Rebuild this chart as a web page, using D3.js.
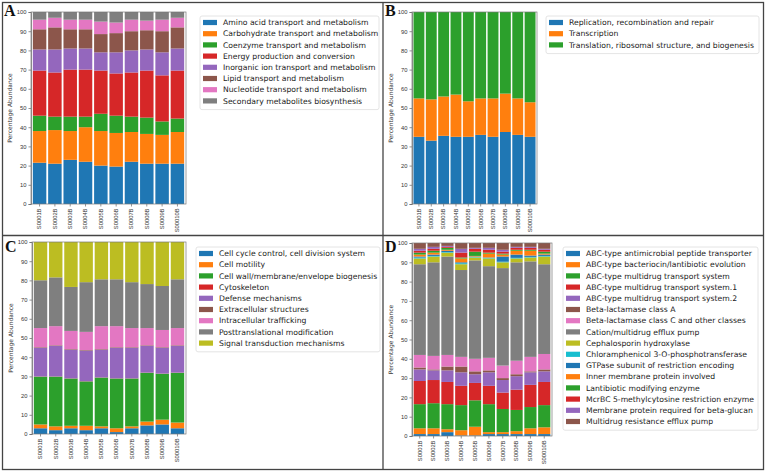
<!DOCTYPE html>
<html>
<head>
<meta charset="utf-8">
<script src="https://cdn.jsdelivr.net/npm/d3@7"></script>
<style>
  body { margin: 0; background: #fff; }
  svg { display: block; font-family: 'DejaVu Sans', sans-serif; }
</style>
</head>
<body>
<script>
const samples = ['S0001B', 'S0002B', 'S0003B', 'S0004B', 'S0005B', 'S0006B', 'S0007B', 'S0008B', 'S0009B', 'S00010B']
const yTicks = [0, 10, 20, 30, 40, 50, 60, 70, 80, 90, 100]

// panel A - metabolism
const catsA = [
  'Amino acid transport and metabolism',
  'Carbohydrate transport and metabolism',
  'Coenzyme transport and metabolism',
  'Energy production and conversion',
  'Inorganic ion transport and metabolism',
  'Lipid transport and metabolism',
  'Nucleotide transport and metabolism',
  'Secondary metabolites biosynthesis'
]
const valuesA = [
  [21.5, 21, 23, 22, 20, 19.5, 22, 21, 21, 21],
  [16.5, 17.5, 15, 18, 18, 17.5, 15.5, 15.5, 15, 16.5],
  [8, 7, 7.5, 5.5, 9, 9, 8, 8.5, 7, 7],
  [23.5, 23, 24.5, 24.5, 22.5, 22, 23, 24.5, 24, 25],
  [11, 12, 11, 11, 9.5, 11, 11.5, 11, 12, 11.5],
  [10.5, 11.5, 10, 10, 9.5, 10, 10, 10, 11, 11],
  [5, 5, 5, 5, 6.5, 5.5, 6, 5, 6, 5],
  [4, 3, 4, 4, 5, 5.5, 4, 4.5, 4, 3]
]

// panel B - information processing
const catsB = [
  'Replication, recombination and repair',
  'Transcription',
  'Translation, ribosomal structure, and biogenesis'
]
const valuesB = [
  [35, 33, 35.5, 35, 35, 36, 35, 37.5, 36, 35],
  [20, 21.5, 20.5, 22, 18.5, 19, 20, 20, 19, 18],
  [45, 45.5, 44, 43, 46.5, 45, 45, 42.5, 45, 47]
]

// panel C - cellular processes
const catsC = [
  'Cell cycle control, cell division system',
  'Cell motility',
  'Cell wall/membrane/envelope biogenesis',
  'Cytoskeleton',
  'Defense mechanisms',
  'Extracellular structures',
  'Intracellular trafficking',
  'Posttranslational modification',
  'Signal transduction mechanisms'
]
const valuesC = [
  [3, 2, 3, 2, 3, 1, 3, 4.5, 5, 3],
  [2, 2, 1.3, 2.3, 1, 2, 1, 2, 2.5, 3],
  [25, 26, 24.7, 23.2, 25.5, 26, 25, 25.5, 24, 26],
  [0.1, 0.1, 0.1, 0.1, 0.1, 0.1, 0.1, 0.1, 0.1, 0.1],
  [15, 16, 15, 16, 14.5, 16, 16, 14, 13.5, 14],
  [0.3, 0.3, 0.3, 0.3, 0.3, 0.3, 0.3, 0.3, 0.3, 0.3],
  [10, 10, 9.5, 9.5, 12, 11, 10, 9, 9, 9],
  [25, 25.5, 23, 26, 24.5, 24.5, 24, 23, 23, 25.5],
  [20, 18.5, 23.5, 21, 19.5, 19.5, 21, 22, 23, 19.5]
]

// panel D - antimicrobial resistance
const catsD = [
  'ABC-type antimicrobial peptide transporter',
  'ABC-type bacteriocin/lantibiotic evolution',
  'ABC-type multidrug transport system',
  'ABC-type multidrug transport system.1',
  'ABC-type multidrug transport system.2',
  'Beta-lactamase class A',
  'Beta-lactamase class C and other classes',
  'Cation/multidrug efflux pump',
  'Cephalosporin hydroxylase',
  'Chloramphenicol 3-O-phosphotransferase',
  'GTPase subunit of restriction encoding',
  'Inner membrane protein involved',
  'Lantibiotic modifying enzyme',
  'McrBC 5-methylcytosine restriction enzyme',
  'Membrane protein required for beta-glucan',
  'Multidrug resistance efflux pump'
]
const valuesD = [
  [1, 1, 2, 0.3, 0.3, 1, 1, 1, 1, 1],
  [3, 3, 1.5, 2.7, 4.5, 1, 1, 1.5, 3, 3.5],
  [12.5, 13, 13, 13, 13.7, 14.5, 12, 11, 11, 11.5],
  [12, 12, 11.5, 10, 9, 9.5, 8.5, 10.5, 11.5, 12],
  [6, 5, 6, 7, 4.5, 7, 6.5, 7, 6.5, 5.5],
  [1, 0.5, 2, 3, 1.5, 1, 1, 1, 0.5, 1],
  [6.5, 7, 6, 5, 6.5, 6.5, 6.5, 7, 7.5, 8],
  [47, 48.5, 51, 45, 51, 47.5, 50.5, 51, 49.5, 46.5],
  [3, 3, 2, 3, 1.5, 4, 3, 2, 2, 4],
  [0.5, 0.3, 0.3, 0.5, 0.3, 0.3, 0.3, 0.3, 0.3, 0.3],
  [0.5, 0.7, 0.7, 0.5, 0.2, 0.2, 2.7, 1.7, 0.7, 0.7],
  [1, 1, 0.5, 2, 0.3, 2, 1, 2, 2.5, 0.5],
  [1, 1, 1, 0.5, 2.2, 0.5, 0.5, 0.5, 0.5, 1],
  [1, 1, 0.5, 2.5, 1.5, 1.5, 1, 1, 1, 1],
  [1, 1, 0.5, 2, 0.5, 1, 1, 0.5, 0.5, 0.5],
  [3, 2, 1.5, 3, 2.5, 2.5, 3.5, 2, 2, 3]
]

const tab10 = ['#1f77b4', '#ff7f0e', '#2ca02c', '#d62728', '#9467bd', '#8c564b', '#e377c2', '#7f7f7f', '#bcbd22', '#17becf']

const width = 767
const height = 473

const svg = d3.select('body').append('svg').attr('width', width).attr('height', height)

// outer frame and panel dividers
const frame = svg.append('g').attr('fill', 'none').attr('stroke', '#444').attr('stroke-width', 1.3)
frame.append('rect').attr('x', 2.5).attr('y', 2.5).attr('width', 761).attr('height', 467)
frame.append('line').attr('x1', 383).attr('x2', 383).attr('y1', 2.5).attr('y2', 469.5)
frame.append('line').attr('x1', 2.5).attr('x2', 763.5).attr('y1', 235.5).attr('y2', 235.5)

const panels = [
  { letter: 'A', cats: catsA, values: valuesA, plot: [31, 186, 12, 204], legend: [200, 16, 179], lx: 4, ly: 16 },
  { letter: 'B', cats: catsB, values: valuesB, plot: [412, 537, 12, 204], legend: [546, 16, 213], lx: 385, ly: 16 },
  { letter: 'C', cats: catsC, values: valuesC, plot: [32, 186, 242, 434], legend: [196, 247, 184], lx: 5, ly: 252 },
  { letter: 'D', cats: catsD, values: valuesD, plot: [412, 552, 243, 436], legend: [563, 247, 195], lx: 385, ly: 252 }
]

const drawPanel = (p) => {
  const [x0, x1, y0, y1] = p.plot
  const rows = samples.map((s, i) => {
    const r = { sample: s }
    p.cats.forEach((c, k) => (r[c] = p.values[k][i]))
    return r
  })
  const series = d3.stack().keys(p.cats).offset(d3.stackOffsetExpand)(rows)
  const color = d3.scaleOrdinal().domain(p.cats).range(p.cats.map((c, k) => tab10[k % 10]))

  const x = d3.scaleBand().domain(samples).range([x0, x1]).paddingInner(0.12).paddingOuter(0.12)
  const y = d3.scaleLinear().domain([0, 1]).range([y1, y0])

  const g = svg.append('g')

  g.append('g')
    .selectAll('g')
    .data(series)
    .join('g')
    .attr('fill', (d) => color(d.key))
    .selectAll('rect')
    .data((d) => d)
    .join('rect')
    .attr('x', (d) => x(d.data.sample))
    .attr('width', x.bandwidth())
    .attr('y', (d) => y(d[1]))
    .attr('height', (d) => Math.max(0, y(d[0]) - y(d[1])))

  // axes
  const ya = d3.scaleLinear().domain([0, 100]).range([y1, y0])
  g.append('g')
    .attr('transform', `translate(${x0},0)`)
    .call(d3.axisLeft(ya).tickValues(yTicks).tickSize(2.5).tickPadding(2))
    .call((a) => a.selectAll('text').attr('font-size', 5.8).attr('fill', '#333'))
    .call((a) => a.selectAll('line, path').attr('stroke', '#666').attr('stroke-width', 0.7))
  g.append('g')
    .attr('transform', `translate(0,${y1})`)
    .call(d3.axisBottom(x).tickSize(2.5).tickPadding(2))
    .call((a) => a.select('.domain').remove())
    .call((a) => a.selectAll('line').attr('stroke', '#666').attr('stroke-width', 0.7))
    .call((a) =>
      a.selectAll('text')
        .attr('font-size', 5.8)
        .attr('fill', '#333')
        .attr('transform', 'rotate(-90)')
        .attr('text-anchor', 'end')
        .attr('dy', '0.32em')
        .attr('x', -4.5)
        .attr('y', 0)
    )
  g.append('rect')
    .attr('x', x0).attr('y', y0).attr('width', x1 - x0).attr('height', y1 - y0)
    .attr('fill', 'none').attr('stroke', '#777').attr('stroke-width', 0.7)

  g.append('text')
    .attr('transform', `translate(${x0 - 19},${(y0 + y1) / 2}) rotate(-90)`)
    .attr('text-anchor', 'middle')
    .attr('font-size', 6)
    .attr('fill', '#333')
    .text('Percentage Abundance')

  // panel letter
  svg.append('text')
    .attr('x', p.lx).attr('y', p.ly)
    .attr('font-family', "'Liberation Serif', serif")
    .attr('font-weight', 'bold')
    .attr('font-size', 16)
    .attr('fill', '#111')
    .text(p.letter)

  // legend
  const [lx, ly, lw] = p.legend
  const row = 11.2
  const lg = g.append('g').attr('transform', `translate(${lx},${ly})`)
  lg.append('rect')
    .attr('width', lw).attr('height', p.cats.length * row + 4)
    .attr('rx', 2).attr('fill', '#fff').attr('stroke', '#ddd').attr('stroke-width', 0.8)
  const item = lg.selectAll('g.item')
    .data(p.cats)
    .join('g')
    .attr('class', 'item')
    .attr('transform', (d, i) => `translate(3,${6.5 + i * row})`)
  item.append('rect').attr('x', 0).attr('y', -2.6).attr('width', 14).attr('height', 5.2).attr('fill', (d) => color(d))
  item.append('text')
    .attr('x', 20).attr('dy', '0.35em')
    .attr('font-size', 7.7).attr('fill', '#222')
    .text((d) => d)
}

panels.forEach(drawPanel)
</script>
</body>
</html>
